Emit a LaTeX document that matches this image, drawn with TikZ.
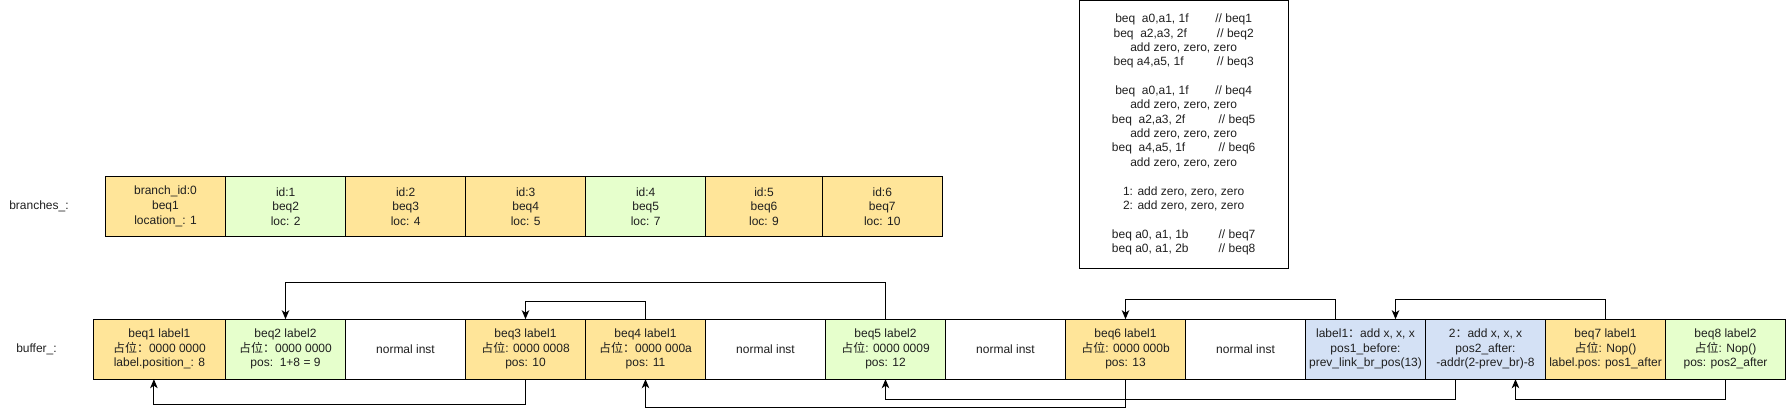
\documentclass[tikz,border=0pt]{standalone}
\usepackage{fontspec}
\setmainfont{Liberation Sans}
\newfontfamily\cjk{Noto Sans CJK SC}
\usetikzlibrary{arrows.meta}
\definecolor{cyel}{HTML}{FFE599}
\definecolor{cgrn}{HTML}{E6FFCC}
\definecolor{cblu}{HTML}{D4E1F5}
\definecolor{ctxt}{HTML}{1F1F1F}
\newcommand{\zwf}{{\cjk 占位：}}
\newcommand{\zwh}{{\cjk 占位}:}
\newcommand{\myspc}[1]{\hspace*{#1\fontdimen2\font}}
\begin{document}
\begin{tikzpicture}[x=1pt,y=-1pt,
  every node/.style={font=\fontsize{12}{14.6}\selectfont, text=ctxt},
  cell/.style={draw, line width=1pt, inner sep=0pt, outer sep=0pt,
    minimum width=120pt, minimum height=60pt, align=center},
  bcell/.style={draw, line width=1pt, inner sep=0pt, outer sep=0pt,
    minimum height=59.3pt, align=center},
  conn/.style={line width=1pt, -{Stealth[length=9pt,width=7.5pt,inset=2.5pt]}},
  lbl/.style={inner sep=0pt}
]
\useasboundingbox (0,0) rectangle (1786,416);

% code box
\node[draw, line width=1pt, minimum width=208.7pt, minimum height=267.6pt,
  inner sep=0pt, outer sep=0pt, align=center,
  font=\fontsize{12}{14.35}\selectfont] (code) at (1183.65,134.5)
{beq\myspc{2}a0,a1, 1f\myspc{8}// beq1\\
beq\myspc{2}a2,a3, 2f\myspc{9}// beq2\\
add zero, zero, zero\\
beq a4,a5, 1f\myspc{10}// beq3\\[14.35pt]
beq\myspc{2}a0,a1, 1f\myspc{8}// beq4\\
add zero, zero, zero\\
beq\myspc{2}a2,a3, 2f\myspc{10}// beq5\\
add zero, zero, zero\\
beq\myspc{2}a4,a5, 1f\myspc{10}// beq6\\
add zero, zero, zero\\[14.35pt]
1: add zero, zero, zero\\
2: add zero, zero, zero\\[14.35pt]
beq a0, a1, 1b\myspc{9}// beq7\\
beq a0, a1, 2b\myspc{9}// beq8};

% row labels
\node[lbl] (lbr) at (39,206.3) {branches\_:};
\node[lbl] (lbu) at (36.5,349.2) {buffer\_:};

% branches_
\node[bcell, fill=cyel, minimum width=120.4pt] (br0) at (165.5,206.35) {branch\_id:0\\beq1\\location\_: 1};
\node[bcell, fill=cgrn, minimum width=120pt] (br1) at (285.7,206.35) {id:1\\beq2\\loc: 2};
\node[bcell, fill=cyel, minimum width=120pt] (br2) at (405.7,206.35) {id:2\\beq3\\loc: 4};
\node[bcell, fill=cyel, minimum width=120pt] (br3) at (525.7,206.35) {id:3\\beq4\\loc: 5};
\node[bcell, fill=cgrn, minimum width=120pt] (br4) at (645.7,206.35) {id:4\\beq5\\loc: 7};
\node[bcell, fill=cyel, minimum width=116.6pt] (br5) at (764,206.35) {id:5\\beq6\\loc: 9};
\node[bcell, fill=cyel, minimum width=120pt] (br6) at (882.3,206.35) {id:6\\beq7\\loc: 10};

% buffer_
\node[cell, fill=cyel, minimum width=132.2pt] (beq1) at (159.4,349.2) {beq1 label1\\\zwf0000 0000\\label.position\_: 8};
\node[cell, fill=cgrn] (beq2) at (285.5,349.2) {beq2 label2\\\zwf0000 0000\\pos:\myspc{2}1+8 = 9};
\node[cell, fill=white] (n1) at (405.5,349.2) {normal inst};
\node[cell, fill=cyel] (beq3) at (525.5,349.2) {beq3 label1\\\zwh{} 0000 0008\\pos: 10};
\node[cell, fill=cyel] (beq4) at (645.5,349.2) {beq4 label1\\\zwf0000 000a\\pos: 11};
\node[cell, fill=white] (n2) at (765.5,349.2) {normal inst};
\node[cell, fill=cgrn] (beq5) at (885.5,349.2) {beq5 label2\\\zwh{} 0000 0009\\pos: 12};
\node[cell, fill=white] (n3) at (1005.5,349.2) {normal inst};
\node[cell, fill=cyel] (beq6) at (1125.5,349.2) {beq6 label1\\\zwh{} 0000 000b\\pos: 13};
\node[cell, fill=white] (n4) at (1245.5,349.2) {normal inst};
\node[cell, fill=cblu] (lab1) at (1365.5,349.2) {label1{\cjk ：}add x, x, x\\pos1\_before:\\prev\_link\_br\_pos(13)};
\node[cell, fill=cblu] (lab2) at (1485.5,349.2) {2{\cjk ：}add x, x, x\\pos2\_after:\\-addr(2-prev\_br)-8};
\node[cell, fill=cyel] (beq7) at (1605.5,349.2) {beq7 label1\\\zwh{} Nop()\\label.pos: pos1\_after};
\node[cell, fill=cgrn] (beq8) at (1725.5,349.2) {beq8 label2\\\zwh{} Nop()\\pos: pos2\_after};

% connectors above
\draw[conn] (beq5.north) -- ++(0,-37) -| (beq2.north);
\draw[conn] (beq4.north) -- ++(0,-18) -| (beq3.north);
\draw[conn] ([xshift=-30pt]lab1.north) -- ++(0,-20) -| (beq6.north);
\draw[conn] (beq7.north) -- ++(0,-20) -| ([xshift=30pt]lab1.north);

% connectors below
\draw[conn] (beq3.south) -- ++(0,25) -| ([xshift=-5.5pt]beq1.south);
\draw[conn] (beq6.south) -- ++(0,28) -| (beq4.south);
\draw[conn] ([xshift=-30pt]lab2.south) -- ++(0,20) -| (beq5.south);
\draw[conn] (beq8.south) -- ++(0,20) -| ([xshift=30pt]lab2.south);
\end{tikzpicture}
\end{document}
